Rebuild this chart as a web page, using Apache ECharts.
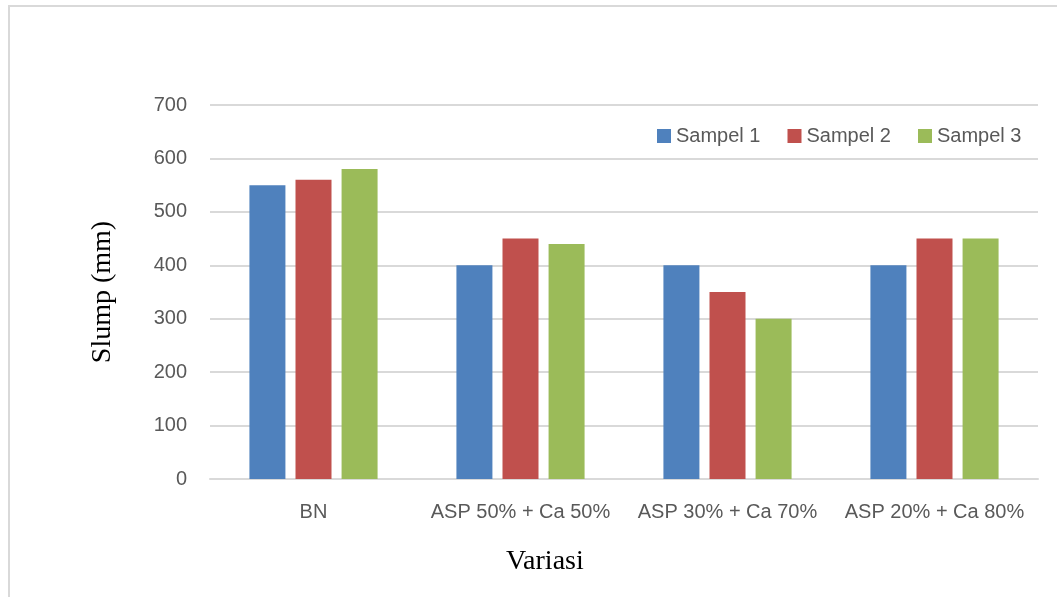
<!DOCTYPE html>
<html>
<head>
<meta charset="utf-8">
<script src="https://cdn.jsdelivr.net/npm/echarts@6/dist/echarts.min.js"></script>
<style>
    html, body { margin: 0; padding: 0; background: #fff; }
    #main { width: 1057px; height: 597px; }
</style>
</head>
<body>
<div id="main"></div>
<script>
    // kategori dan nilai slump (mm)
    const categories = ['BN', 'ASP 50% + Ca 50%', 'ASP 30% + Ca 70%', 'ASP 20% + Ca 80%'];
    const sampel1 = [550, 400, 400, 400];
    const sampel2 = [560, 450, 350, 450];
    const sampel3 = [580, 440, 300, 450];
    const seriesNames = ['Sampel 1', 'Sampel 2', 'Sampel 3'];
    const colors = ['#4F81BD', '#C0504D', '#9BBB59'];

    const chart = echarts.init(document.getElementById('main'));

    const tickFont = 'Liberation Sans, Arial, sans-serif';
    const serifFont = 'Liberation Serif, Times New Roman, serif';

    const option = {
        animation: false,
        color: colors,
        title: {
            text: 'Variasi',
            left: 501,
            top: 543,
            textStyle: {
                fontFamily: serifFont,
                fontSize: 28,
                fontWeight: 'normal',
                color: '#000'
            }
        },
        graphic: [{
            type: 'rect',
            shape: { x: 9, y: 6, width: 1070, height: 620 },
            style: { fill: 'none', stroke: '#d9d9d9', lineWidth: 2 },
            silent: true
        }],
        legend: {
            data: seriesNames,
            left: 652,
            top: 121,
            icon: 'rect',
            itemWidth: 14,
            itemHeight: 14,
            itemGap: 27,
            textStyle: { fontFamily: tickFont, fontSize: 20, color: '#595959' }
        },
        grid: {
            left: 210,
            right: 19,
            top: 105,
            bottom: 118
        },
        xAxis: {
            type: 'category',
            data: categories,
            axisLine: { lineStyle: { color: '#d9d9d9', width: 2 } },
            axisTick: { show: false },
            axisLabel: {
                interval: 0,
                hideOverlap: false,
                fontFamily: tickFont,
                fontSize: 20,
                color: '#595959',
                margin: 23
            }
        },
        yAxis: {
            type: 'value',
            min: 0,
            max: 700,
            interval: 100,
            name: 'Slump (mm)',
            nameLocation: 'middle',
            nameRotate: 90,
            nameGap: 93,
            nameTextStyle: {
                fontFamily: serifFont,
                fontSize: 28,
                color: '#000'
            },
            axisLine: { show: false },
            axisTick: { show: false },
            splitLine: { lineStyle: { color: '#d9d9d9', width: 2 } },
            axisLabel: { fontFamily: tickFont, fontSize: 20, color: '#595959', margin: 23 }
        },
        series: [
            { name: seriesNames[0], type: 'bar', data: sampel1, barWidth: 36, barGap: '28%' },
            { name: seriesNames[1], type: 'bar', data: sampel2, barWidth: 36, barGap: '28%' },
            { name: seriesNames[2], type: 'bar', data: sampel3, barWidth: 36, barGap: '28%' }
        ]
    };

    chart.setOption(option);
</script>
</body>
</html>
